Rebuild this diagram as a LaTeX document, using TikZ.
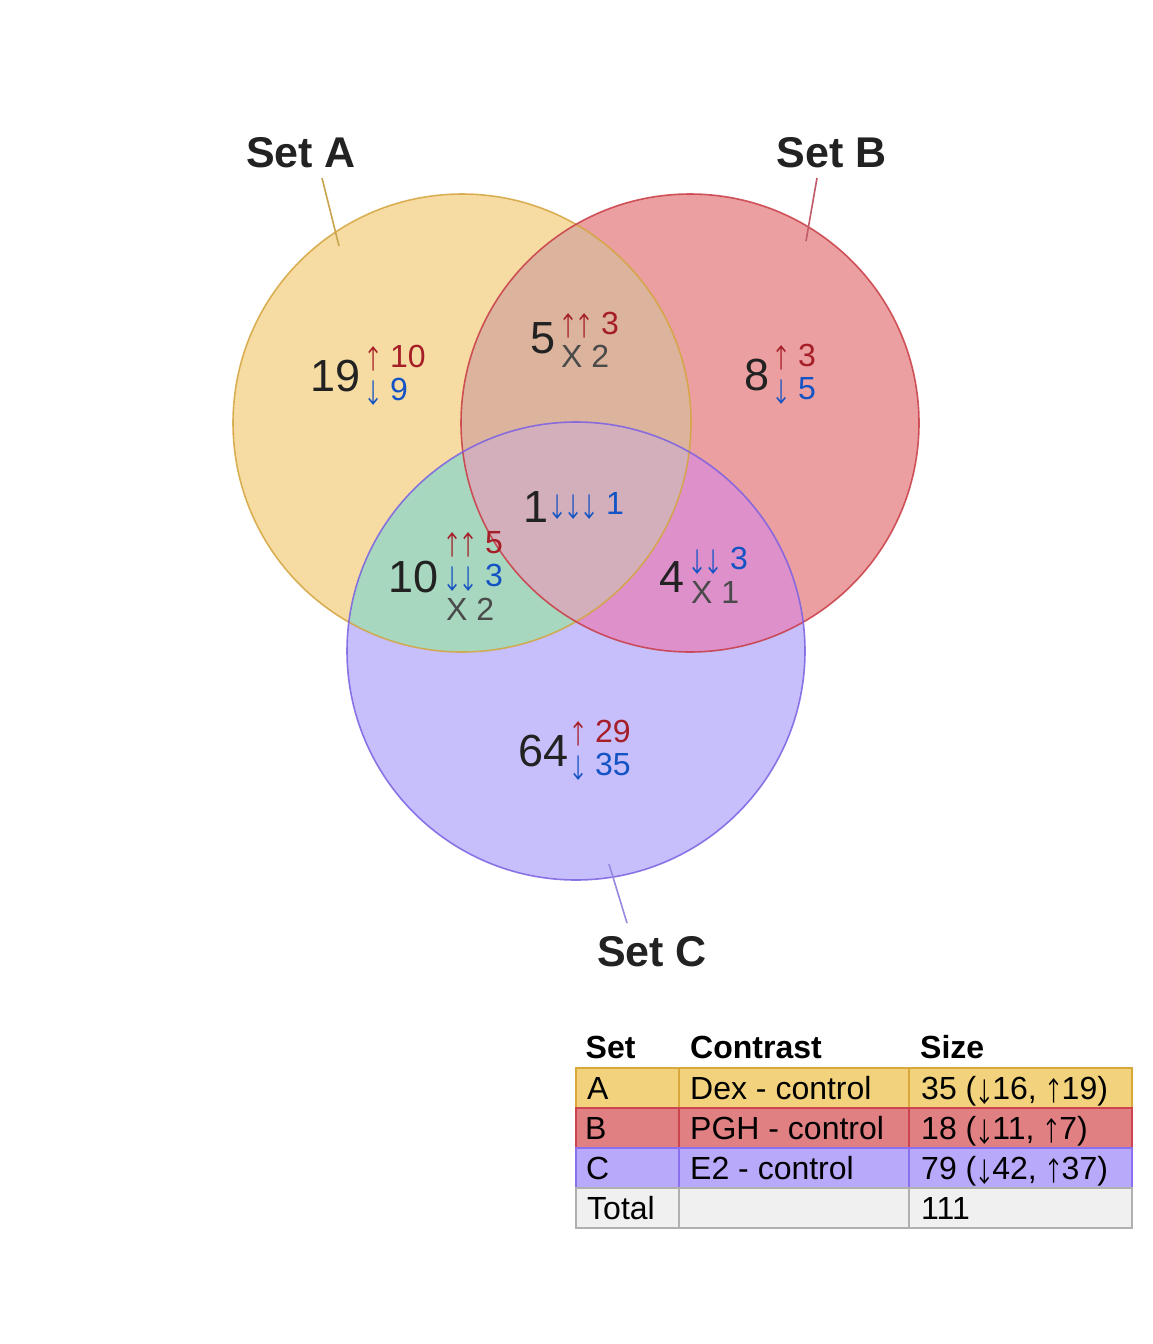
\documentclass[tikz,border=0pt]{standalone}
\usepackage{fontspec}
\usepackage{graphicx}
\setmainfont{Liberation Sans}
\newfontfamily\arrfont{TeX Gyre Heros}
\newcommand\ua{\makebox[0.5em]{\scalebox{0.6}[1]{\arrfont ↑}}}
\newcommand\da{\makebox[0.5em]{\scalebox{0.6}[1]{\arrfont ↓}}}
\definecolor{Afill}{HTML}{F6DCA3}
\definecolor{Bfill}{HTML}{EB9FA0}
\definecolor{Cfill}{HTML}{C7BFFB}
\definecolor{ABfill}{HTML}{DCB49E}
\definecolor{ACfill}{HTML}{A8D7BF}
\definecolor{BCfill}{HTML}{DD90C9}
\definecolor{ABCfill}{HTML}{D2AFBB}
\definecolor{Aline}{HTML}{D4A53F}
\definecolor{Bline}{HTML}{C93C45}
\definecolor{Cline}{HTML}{7B60E2}
\definecolor{Alead}{HTML}{C9A54F}
\definecolor{Blead}{HTML}{C05A68}
\definecolor{Clead}{HTML}{9788E0}
\definecolor{cntc}{HTML}{222222}
\definecolor{upc}{HTML}{A51E28}
\definecolor{dnc}{HTML}{1453C4}
\definecolor{xc}{HTML}{4A4A4A}
\definecolor{tA}{HTML}{F2D27C}
\definecolor{tAb}{HTML}{D9A83A}
\definecolor{tB}{HTML}{E08083}
\definecolor{tBb}{HTML}{CC4450}
\definecolor{tC}{HTML}{B8A9FA}
\definecolor{tCb}{HTML}{8A70EE}
\definecolor{tT}{HTML}{F0F0F0}
\definecolor{tTb}{HTML}{B0B0B0}
\begin{document}
\begin{tikzpicture}[x=1pt,y=-1pt,
  cnt/.style={font=\fontsize{45}{50}\selectfont, text=cntc, anchor=base west, inner sep=0pt},
  subt/.style={font=\fontsize{32}{36}\selectfont, anchor=base west, inner sep=0pt},
  upt/.style={subt, text=upc},
  dnt/.style={subt, text=dnc},
  xt/.style={subt, text=xc},
  setlab/.style={font=\fontsize{43}{48}\selectfont\bfseries, text=cntc, anchor=base, inner sep=0pt},
  thead/.style={font=\fontsize{32}{36}\selectfont\bfseries, text=black, anchor=base west, inner sep=0pt},
  tcell/.style={font=\fontsize{32}{36}\selectfont, text=black, anchor=base west, inner sep=0pt},
  outline/.style={line width=1.6pt, draw opacity=0.85},
  lead/.style={line width=1.6pt}
]
\useasboundingbox (0,0) rectangle (1152,1344);
\def\R{229pt}
\coordinate (cA) at (462,423);
\coordinate (cB) at (690,423);
\coordinate (cC) at (576,651);
% base fills
\fill[Afill] (cA) circle[radius=\R];
\fill[Bfill] (cB) circle[radius=\R];
\fill[Cfill] (cC) circle[radius=\R];
% pairwise
\begin{scope}\clip (cA) circle[radius=\R]; \fill[ABfill] (cB) circle[radius=\R];\end{scope}
\begin{scope}\clip (cA) circle[radius=\R]; \fill[ACfill] (cC) circle[radius=\R];\end{scope}
\begin{scope}\clip (cB) circle[radius=\R]; \fill[BCfill] (cC) circle[radius=\R];\end{scope}
\begin{scope}\clip (cA) circle[radius=\R]; \clip (cB) circle[radius=\R]; \fill[ABCfill] (cC) circle[radius=\R];\end{scope}
% outlines
\draw[outline, Aline] (cA) circle[radius=\R];
\draw[outline, Bline] (cB) circle[radius=\R];
\draw[outline, Cline] (cC) circle[radius=\R];
% set labels and leaders
\node[setlab] (labA) at (301,167) {Set A};
\node[setlab] (labB) at (831.5,167) {Set B};
\node[setlab] (labC) at (652,966) {Set C};
\coordinate (lA1) at (322,178); \coordinate (lA2) at (339,246);
\coordinate (lB1) at (817,178); \coordinate (lB2) at (806,241);
\coordinate (lC1) at (609,864); \coordinate (lC2) at (627,923);
\draw[lead, Alead] (lA1) -- (lA2);
\draw[lead, Blead] (lB1) -- (lB2);
\draw[lead, Clead] (lC1) -- (lC2);
% A only
\node[cnt] (nA) at (310,391) {19};
\node[upt] (nAu) at (365,367) {\ua{} 10};
\node[dnt] (nAd) at (365,400) {\da{} 9};
% AB
\node[cnt] (nAB) at (530,353) {5};
\node[upt] (nABu) at (560,334) {\ua\ua{} 3};
\node[xt] (nABx) at (561,367) {X 2};
% B only
\node[cnt] (nB) at (744,390) {8};
\node[upt] (nBu) at (773,366) {\ua{} 3};
\node[dnt] (nBd) at (773,399) {\da{} 5};
% ABC
\node[cnt] (nABC) at (523,522) {1};
\node[dnt] (nABCd) at (549,514) {\da\da\da{} 1};
% AC
\node[cnt] (nAC) at (388,592) {10};
\node[upt] (nACu) at (444,553) {\ua\ua{} 5};
\node[dnt] (nACd) at (444,586) {\da\da{} 3};
\node[xt] (nACx) at (446,620) {X 2};
% BC
\node[cnt] (nBC) at (659,592) {4};
\node[dnt] (nBCd) at (689,569) {\da\da{} 3};
\node[xt] (nBCx) at (691,603) {X 1};
% C only
\node[cnt] (nC) at (518,766) {64};
\node[upt] (nCu) at (570,742) {\ua{} 29};
\node[dnt] (nCd) at (570,775) {\da{} 35};
% table
\foreach \ya/\yb/\f/\b in {1068/1108/tA/tAb, 1108/1148/tB/tBb, 1148/1188/tC/tCb, 1188/1228/tT/tTb}{
  \filldraw[fill=\f, draw=\b, line width=1.6pt] (576,\ya) rectangle (679,\yb);
  \filldraw[fill=\f, draw=\b, line width=1.6pt] (679,\ya) rectangle (909,\yb);
  \filldraw[fill=\f, draw=\b, line width=1.6pt] (909,\ya) rectangle (1132,\yb);
}
\node[thead] (h1) at (585.5,1058) {Set};
\node[thead] (h2) at (690,1058) {Contrast};
\node[thead] (h3) at (920,1058) {Size};
\node[tcell] (a1) at (587,1099) {A};
\node[tcell] (a2) at (690,1099) {Dex - control};
\node[tcell] (a3) at (921,1099) {35 (\da16, \ua19)};
\node[tcell] (b1) at (585,1139) {B};
\node[tcell] (b2) at (690,1139) {PGH - control};
\node[tcell] (b3) at (921,1139) {18 (\da11, \ua7)};
\node[tcell] (c1) at (586,1179) {C};
\node[tcell] (c2) at (690,1179) {E2 - control};
\node[tcell] (c3) at (921,1179) {79 (\da42, \ua37)};
\node[tcell] (d1) at (587,1219) {Total};
\node[tcell] (d3) at (921,1219) {111};
\end{tikzpicture}
\end{document}
